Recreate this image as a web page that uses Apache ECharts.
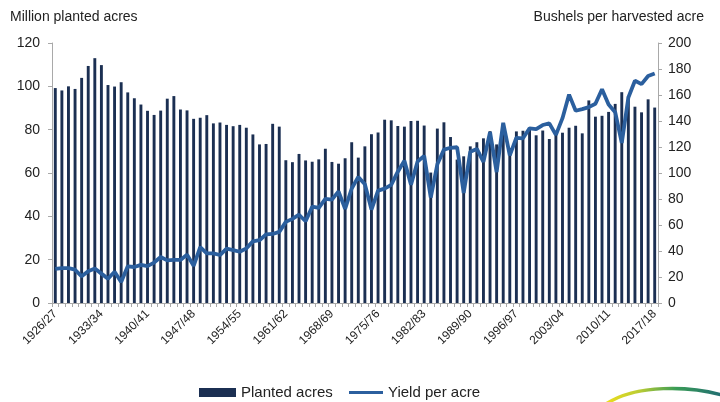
<!DOCTYPE html>
<html>
<head>
<meta charset="utf-8">
<style>
  html, body { margin: 0; padding: 0; background: #fff; }
  #chart { width: 720px; height: 402px; }
</style>
<script src="https://cdn.jsdelivr.net/npm/echarts@6/dist/echarts.min.js"></script>
</head>
<body>
<div id="chart"></div>
<script>
// Marketing years 1926/27 .. 2017/18
const startYear = 1926;
const endYear = 2017;
const seasons = [];
for (let y = startYear; y <= endYear; y++) {
  seasons.push(y + '/' + String((y + 1) % 100).padStart(2, '0'));
}

// Planted area, million acres
const plantedAcres = [
  99.2, 98.1, 100.0, 98.8, 103.9, 109.4, 113.0, 109.8, 100.6, 99.9,
  101.9, 97.2, 94.5, 91.6, 88.7, 86.8, 88.8, 94.3, 95.5, 89.3,
  88.9, 85.0, 85.5, 86.7, 82.9, 83.3, 82.2, 81.6, 82.2, 80.9,
  77.8, 73.2, 73.4, 82.7, 81.4, 65.9, 65.0, 68.8, 65.8, 65.2,
  66.3, 71.2, 65.1, 64.3, 66.8, 74.2, 67.1, 72.3, 77.9, 78.7,
  84.6, 84.3, 81.7, 81.4, 84.0, 84.1, 81.9, 60.2, 80.5, 83.4,
  76.6, 66.2, 67.7, 72.3, 74.2, 76.0, 79.3, 73.2, 79.2, 71.5,
  79.2, 79.5, 80.2, 77.4, 79.6, 75.7, 78.9, 78.6, 80.9, 81.8,
  78.3, 93.5, 86.0, 86.4, 88.2, 91.9, 97.3, 95.4, 90.6, 88.0,
  94.0, 90.2
];

// Yield, bushels per harvested acre
const yieldPerAcre = [
  26.3, 26.9, 26.8, 25.6, 20.5, 24.5, 26.5, 22.6, 18.7, 24.0,
  16.2, 28.2, 27.7, 29.3, 28.4, 31.1, 35.4, 32.8, 33.1, 33.1,
  37.2, 28.6, 43.0, 38.2, 38.2, 36.9, 41.8, 40.7, 39.4, 42.0,
  47.4, 48.3, 52.8, 53.1, 54.7, 62.4, 64.7, 67.9, 62.9, 74.1,
  73.1, 80.1, 79.5, 85.9, 72.4, 88.1, 97.0, 91.3, 71.9, 86.4,
  88.0, 90.8, 101.0, 109.5, 91.0, 108.9, 113.2, 81.1, 106.7, 118.0,
  119.4, 119.8, 84.6, 116.3, 118.5, 108.6, 131.5, 100.7, 138.6, 113.5,
  127.1, 126.7, 134.4, 133.8, 136.9, 138.2, 129.3, 142.2, 160.3, 147.9,
  149.1, 150.7, 153.3, 164.4, 152.6, 146.8, 123.1, 158.1, 171.0, 168.4,
  174.6, 176.6
];

const leftTicks = { min: 0, max: 120, interval: 20 };
const rightTicks = { min: 0, max: 200, interval: 20 };

const barColor = '#1b2f52';
const lineColor = '#2b5f9e';
const axisGray = '#a9a9a9';
const textColor = '#222';
const fontFamily = '"Liberation Sans", Arial, Helvetica, sans-serif';

const legendText = { fontSize: 15, color: textColor, fontFamily: fontFamily };

const chart = echarts.init(document.getElementById('chart'), null, { renderer: 'canvas' });

chart.setOption({
  animation: false,
  backgroundColor: '#fff',
  textStyle: { fontFamily: fontFamily, color: textColor },
  grid: { left: 52, right: 62, top: 43, bottom: 99 },
  legend: [
    {
      top: 380,
      left: 194,
      itemWidth: 37,
      itemHeight: 9,
      itemGap: 6,
      icon: 'rect',
      textStyle: legendText,
      data: ['Planted acres']
    },
    {
      top: 380,
      left: 344,
      itemWidth: 34,
      itemHeight: 3,
      icon: 'rect',
      textStyle: legendText,
      data: ['Yield per acre']
    }
  ],
  xAxis: {
    type: 'category',
    data: seasons,
    boundaryGap: true,
    axisLine: { lineStyle: { color: axisGray, width: 1 } },
    axisTick: { show: true, interval: 0, length: 4, lineStyle: { color: axisGray } },
    axisLabel: {
      interval: 6,
      rotate: 45,
      fontSize: 12,
      color: textColor,
      margin: 9,
      fontFamily: fontFamily
    },
    splitLine: { show: false }
  },
  yAxis: [
    {
      type: 'value',
      min: leftTicks.min,
      max: leftTicks.max,
      interval: leftTicks.interval,
      position: 'left',
      axisLine: { show: true, lineStyle: { color: axisGray } },
      axisTick: { show: true, length: 4, lineStyle: { color: axisGray } },
      axisLabel: { fontSize: 14, color: textColor, margin: 12, fontFamily: fontFamily },
      splitLine: { show: false }
    },
    {
      type: 'value',
      min: rightTicks.min,
      max: rightTicks.max,
      interval: rightTicks.interval,
      position: 'right',
      axisLine: { show: true, lineStyle: { color: axisGray } },
      axisTick: { show: true, length: 4, lineStyle: { color: axisGray } },
      axisLabel: { fontSize: 14, color: textColor, margin: 10, fontFamily: fontFamily },
      splitLine: { show: false }
    }
  ],
  graphic: [
    {
      type: 'text',
      left: 10,
      top: 10,
      style: { text: 'Million planted acres', font: '14px ' + fontFamily, fill: textColor }
    },
    {
      type: 'text',
      right: 16,
      top: 10,
      style: { text: 'Bushels per harvested acre', font: '14px ' + fontFamily, fill: textColor }
    },
    {
      // swoosh of the publisher's mark, bottom right corner
      type: 'bezierCurve',
      silent: true,
      shape: { x1: 606, y1: 404, cpx1: 636, cpy1: 384, cpx2: 690, cpy2: 386, x2: 722, y2: 395 },
      style: {
        fill: 'none',
        lineWidth: 3.5,
        stroke: new echarts.graphic.LinearGradient(0, 0, 1, 0, [
          { offset: 0, color: '#f0de1c' },
          { offset: 0.3, color: '#b9cc34' },
          { offset: 0.6, color: '#3a9c56' },
          { offset: 1, color: '#1f6a74' }
        ])
      }
    }
  ],
  series: [
    {
      name: 'Planted acres',
      type: 'bar',
      yAxisIndex: 0,
      data: plantedAcres,
      barWidth: '44%',
      itemStyle: { color: barColor },
      z: 2
    },
    {
      name: 'Yield per acre',
      type: 'line',
      yAxisIndex: 1,
      data: yieldPerAcre,
      symbol: 'none',
      showSymbol: false,
      lineStyle: { color: lineColor, width: 3.8 },
      itemStyle: { color: lineColor },
      z: 3
    }
  ]
});
</script>
</body>
</html>
